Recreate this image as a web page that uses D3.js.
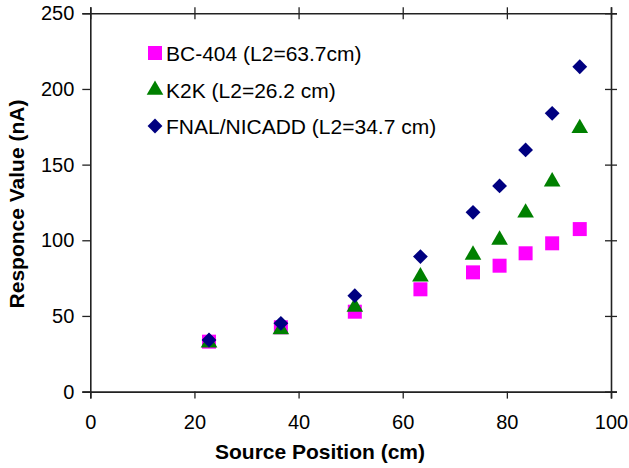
<!DOCTYPE html>
<html>
<head>
<meta charset="utf-8">
<script src="https://cdn.jsdelivr.net/npm/d3@7"></script>
<style>
  body { margin: 0; background: #fff; }
  text { font-family: "Liberation Sans", Arial, sans-serif; fill: #000; }
</style>
</head>
<body>
<svg id="chart"></svg>
<script>
// source position (cm) and response for each scintillator
var position = [22.8, 36.6, 50.8, 63.4, 73.5, 78.6, 83.6, 88.7, 94.0];
var bc404 = [33, 42.5, 52.8, 67.6, 78.8, 83.2, 91.4, 98, 107.4];
var k2k = [32.3, 41, 56, 76, 90.3, 100.2, 118.2, 138.7, 174];
var fnal = [34.1, 45.1, 63.4, 89.2, 118.5, 135.9, 159.7, 183.9, 214.7];

var xTicks = [0, 20, 40, 60, 80, 100];
var yTicks = [0, 50, 100, 150, 200, 250];

var series = [
    {name: 'BC-404 (L2=63.7cm)', values: bc404, color: '#ff00ff', shape: d3.symbolSquare, size: 196},
    {name: 'K2K (L2=26.2 cm)', values: k2k, color: '#008000', shape: d3.symbolTriangle, size: 120},
    {name: 'FNAL/NICADD (L2=34.7 cm)', values: fnal, color: '#000080', shape: d3.symbolDiamond2, size: 140}
];

var W = 629, H = 468;
var plotL = 90.3, plotR = 611, plotT = 13.3, plotB = 391.6;

var svg = d3.select('#chart')
    .attr('width', W)
    .attr('height', H);

var x = d3.scaleLinear().domain([0, 100]).range([plotL, plotR]);
var y = d3.scaleLinear().domain([0, 250]).range([plotB, plotT]);

// axes
var xAxis = svg.append('g')
    .attr('transform', 'translate(0,' + plotB + ')')
    .call(d3.axisBottom(x).tickValues(xTicks).tickSize(7).tickPadding(16));
var yAxis = svg.append('g')
    .attr('transform', 'translate(' + plotL + ',0)')
    .call(d3.axisLeft(y).tickValues(yTicks).tickSize(8).tickPadding(8));

// mirror axes on top and right, ticks crossing the frame
var topAxis = svg.append('g')
    .attr('transform', 'translate(0,' + plotT + ')')
    .call(d3.axisTop(x).tickValues(xTicks).tickSize(6).tickFormat(''));
topAxis.selectAll('.tick line').attr('y2', 6).attr('y1', -6);
var rightAxis = svg.append('g')
    .attr('transform', 'translate(' + plotR + ',0)')
    .call(d3.axisRight(y).tickValues(yTicks).tickSize(6).tickFormat(''));
rightAxis.selectAll('.tick line').attr('x1', -6).attr('x2', 6);

svg.selectAll('.domain').attr('stroke', '#222').attr('stroke-width', 1.6);
svg.selectAll('.tick line').attr('stroke', '#222').attr('stroke-width', 1.3);
svg.selectAll('.tick text').style('font-size', '20px').attr('fill', '#000');

// axis titles
svg.append('text')
    .attr('x', 320)
    .attr('y', 459)
    .attr('text-anchor', 'middle')
    .style('font-size', '21px')
    .style('font-weight', 'bold')
    .text('Source Position (cm)');

svg.append('text')
    .attr('transform', 'translate(24,204) rotate(-90)')
    .attr('text-anchor', 'middle')
    .style('font-size', '21px')
    .style('font-weight', 'bold')
    .text('Responce Value (nA)');

// points
series.forEach(function(s){
    svg.append('g')
        .selectAll('path')
        .data(s.values)
        .enter().append('path')
        .attr('d', d3.symbol().type(s.shape).size(s.size))
        .attr('transform', function(d, i){ return 'translate(' + x(position[i]) + ',' + y(d) + ')'; })
        .attr('fill', s.color);
});

// legend
var legend = svg.append('g');
var rowY = [53, 90, 126];
series.forEach(function(s, i){
    legend.append('path')
        .attr('d', d3.symbol().type(s.shape).size(s.size))
        .attr('transform', 'translate(155,' + rowY[i] + ')')
        .attr('fill', s.color);
    legend.append('text')
        .attr('x', 166)
        .attr('y', rowY[i] + 7.5)
        .style('font-size', '21px')
        .text(s.name);
});
</script>
</body>
</html>
